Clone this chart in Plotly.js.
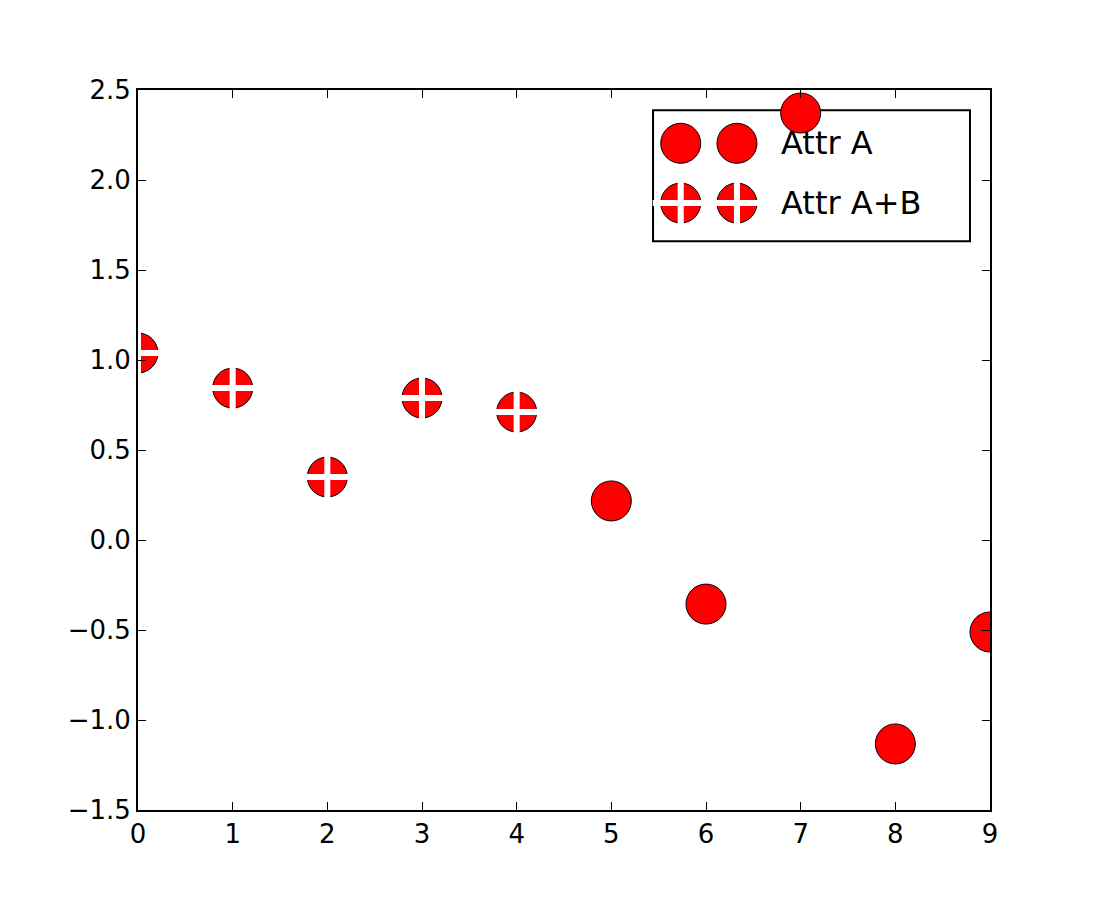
<!DOCTYPE html>
<html>
<head>
<meta charset="utf-8">
<script src="https://cdn.plot.ly/plotly-3.0.1.min.js"></script>
<style>body{margin:0;background:#fff}</style>
</head>
<body>
<div id="chart" style="width:1100px;height:900px"></div>
<script>
// point data
var xA = [5, 6, 7, 8, 9];
var yA = [0.217, -0.356, 2.372, -1.133, -0.511];
var xAB = [0, 1, 2, 3, 4];
var yAB = [1.039, 0.844, 0.350, 0.789, 0.711];
var legendLabels = ['Attr A', 'Attr A+B'];

var circle = {color: 'rgb(255,0,0)', size: 40, line: {color: 'black', width: 1}};
var cross = {symbol: 'cross-thin', color: 'white', size: 40, line: {color: 'white', width: 6}};

var traces = [
    {x: xA, y: yA, mode: 'markers', type: 'scatter', marker: circle, showlegend: false},
    {x: xAB, y: yAB, mode: 'markers', type: 'scatter', marker: circle, showlegend: false},
    {x: xAB, y: yAB, mode: 'markers', type: 'scatter', marker: cross, showlegend: false},
    // hand-built legend symbols on an overlay axis in paper-like units
    {x: [0.637, 0.703, 0.637, 0.703], y: [0.926, 0.926, 0.843, 0.843], xaxis: 'x2', yaxis: 'y2',
     mode: 'markers', type: 'scatter', marker: circle, showlegend: false, cliponaxis: false},
    {x: [0.637, 0.703], y: [0.843, 0.843], xaxis: 'x2', yaxis: 'y2',
     mode: 'markers', type: 'scatter', marker: cross, showlegend: false, cliponaxis: false}
];

var axisStyle = {
    showgrid: false, zeroline: false, showline: true, linecolor: 'black', linewidth: 2,
    mirror: 'allticks', ticks: 'inside', ticklen: 8, tickwidth: 1, tickcolor: 'black'
};

var layout = {
    width: 1100, height: 900,
    margin: {l: 138, r: 110, t: 90, b: 90},
    paper_bgcolor: 'white', plot_bgcolor: 'white',
    font: {family: 'DejaVu Sans', size: 26, color: 'black'},
    xaxis: Object.assign({range: [0, 9], dtick: 1}, axisStyle),
    yaxis: Object.assign({range: [-1.5, 2.5], dtick: 0.5, tickformat: '.1f'}, axisStyle),
    xaxis2: {overlaying: 'x', range: [0, 1], visible: false, fixedrange: true},
    yaxis2: {overlaying: 'y', range: [0, 1], visible: false, fixedrange: true},
    shapes: [{type: 'rect', xref: 'paper', yref: 'paper', x0: 0.6045, x1: 0.9765, y0: 0.790, y1: 0.972,
              fillcolor: 'white', line: {color: 'black', width: 2}, layer: 'below'}],
    annotations: [
        {xref: 'paper', yref: 'paper', x: 0.752, y: 0.926, xanchor: 'left', yanchor: 'middle',
         text: legendLabels[0], showarrow: false, font: {size: 32}},
        {xref: 'paper', yref: 'paper', x: 0.752, y: 0.843, xanchor: 'left', yanchor: 'middle',
         text: legendLabels[1], showarrow: false, font: {size: 32}}
    ],
    showlegend: false
};

Plotly.newPlot('chart', traces, layout, {displayModeBar: false});
</script>
</body>
</html>
